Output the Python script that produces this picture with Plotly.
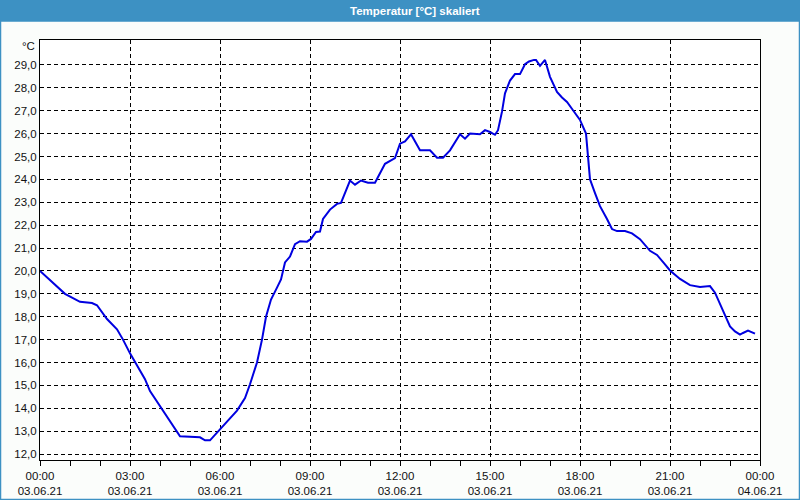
import plotly.graph_objects as go

# ---- data ----
day = "2021-06-03"
times = ["00:00","00:20","00:50","01:20","01:44","01:54","02:14","02:34","02:46","03:00",
         "03:14","03:30","03:40","04:06","04:20","04:40","05:20","05:30","05:40","06:00",
         "06:34","06:50","07:00","07:14","07:24","07:32","07:42","07:54","08:02","08:10",
         "08:20","08:30","08:40","08:54","09:02","09:12","09:20","09:26","09:40","09:54",
         "10:02","10:20","10:30","10:42","10:56","11:10","11:30","11:50","12:00","12:10",
         "12:22","12:40","13:00","13:14","13:26","13:40","14:00","14:10","14:20","14:40",
         "14:50","15:00","15:10","15:16","15:24","15:30","15:40","15:50","16:00","16:10",
         "16:18","16:28","16:32","16:40","16:50","17:00","17:14","17:24","17:34","17:46",
         "18:00","18:12","18:16","18:20","18:30","18:40","18:54","19:04","19:14","19:30",
         "19:44","20:00","20:20","20:34","20:50","21:00","21:20","21:40","22:00","22:20",
         "22:30","22:40","22:50","23:00","23:10","23:20","23:26","23:36","23:50"]
temps = [20.0,19.6,19.0,18.65,18.6,18.5,17.9,17.45,17.0,16.4,
         15.9,15.27,14.75,13.9,13.45,12.78,12.73,12.6,12.6,13.07,
         13.9,14.45,15.05,16.0,17.0,18.0,18.75,19.27,19.63,20.37,
         20.63,21.17,21.3,21.28,21.4,21.7,21.72,22.27,22.68,22.93,
         22.97,23.95,23.77,23.95,23.85,23.85,24.68,24.93,25.56,25.66,
         25.97,25.27,25.27,24.95,24.95,25.27,25.97,25.78,26.0,25.97,
         26.15,26.07,25.95,26.15,26.96,27.76,28.32,28.6,28.6,29.03,
         29.15,29.22,29.22,28.96,29.22,28.48,27.82,27.58,27.38,27.02,
         26.6,26.0,25.0,24.0,23.4,22.83,22.27,21.83,21.74,21.74,
         21.64,21.39,20.88,20.7,20.29,20.02,19.65,19.38,19.3,19.34,
         19.05,18.54,18.02,17.58,17.36,17.22,17.29,17.39,17.26]

x_tick_vals = ["2021-06-03 00:00","2021-06-03 03:00","2021-06-03 06:00","2021-06-03 09:00",
               "2021-06-03 12:00","2021-06-03 15:00","2021-06-03 18:00","2021-06-03 21:00",
               "2021-06-04 00:00"]
x_tick_text = ["00:00<br>03.06.21","03:00<br>03.06.21","06:00<br>03.06.21","09:00<br>03.06.21",
               "12:00<br>03.06.21","15:00<br>03.06.21","18:00<br>03.06.21","21:00<br>03.06.21",
               "00:00<br>04.06.21"]
y_tick_vals = list(range(12, 30))

title_text = "Temperatur [°C] skaliert"
unit_text = "°C"

# ---- figure ----
xs = [f"{day} {t}" for t in times]

fig = go.Figure()
fig.add_trace(go.Scatter(x=xs, y=temps, mode="lines",
                         line=dict(color="#0000e0", width=2), showlegend=False,
                         hoverinfo="skip"))

FONT = "Liberation Sans"
BLUE = "#3d91c3"

fig.update_layout(
    width=800, height=500,
    margin=dict(l=40, r=40, t=40, b=40),
    paper_bgcolor="#fbfdfb",
    plot_bgcolor="#ffffff",
    separators=",.",
    font=dict(family=FONT, size=11.5, color="#111111"),
    xaxis=dict(
        type="date", automargin=False,
        range=["2021-06-03 00:00", "2021-06-04 00:00"],
        tickmode="array", tickvals=x_tick_vals, ticktext=x_tick_text,
        ticks="outside", ticklen=5, tickcolor="#000", tickwidth=1,
        minor=dict(ticks="outside", ticklen=5, tickcolor="#000", tickwidth=1,
                   dtick=3600000, tick0="2021-06-03 00:00", showgrid=False),
        showgrid=True, gridcolor="#000", gridwidth=1, griddash="4px,3px",
        showline=True, linecolor="#000", linewidth=1, mirror=True,
        zeroline=False, tickfont=dict(family=FONT, size=11.5, color="#111"),
    ),
    yaxis=dict(
        range=[11.74, 30.09], automargin=False,
        tickmode="array", tickvals=y_tick_vals, tickformat=".1f",
        ticks="", showgrid=True, gridcolor="#000", gridwidth=1, griddash="4px,3px",
        showline=True, linecolor="#000", linewidth=1, mirror=True,
        zeroline=False, tickfont=dict(family=FONT, size=11.5, color="#111"),
    ),
    shapes=[
        # title bar
        dict(type="rect", xref="paper", yref="paper",
             x0=-40/720, x1=760/720, y0=(460-21)/420, y1=460/420,
             fillcolor=BLUE, line=dict(width=0), layer="below"),
        # window frame
        dict(type="rect", xref="paper", yref="paper",
             x0=-39.5/720, x1=759.5/720, y0=-39.5/420, y1=(460-21)/420,
             fillcolor="rgba(0,0,0,0)", line=dict(color=BLUE, width=1.5)),
    ],
    annotations=[
        dict(text="<b>" + title_text + "</b>", xref="paper", yref="paper",
             x=(415-40)/720, y=(460-10.5)/420, xanchor="center", yanchor="middle",
             showarrow=False, font=dict(family=FONT, size=11.5, color="#ffffff")),
        dict(text=unit_text, xref="paper", yref="paper",
             x=(37-40)/720, y=(460-46)/420, xanchor="right", yanchor="middle",
             showarrow=False, font=dict(family=FONT, size=11.5, color="#111")),
    ],
)

fig.write_html("out.html")
